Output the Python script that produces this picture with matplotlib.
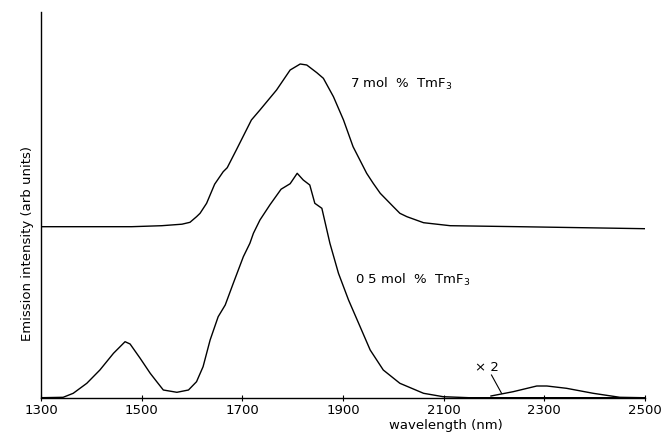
import numpy as np
import matplotlib
matplotlib.use("Agg")
import matplotlib.pyplot as plt

# Data (arbitrary intensity units)
wl_7 = [1300, 1480, 1540, 1580, 1596, 1609, 1616, 1629, 1645, 1662, 1670, 1688,
        1718, 1735, 1768, 1795, 1815, 1828, 1848, 1861, 1881, 1901, 1920, 1947,
        1960, 1974, 2000, 2013, 2027, 2060, 2113, 2250, 2500]
int_7 = [171, 171, 172, 173.5, 175.4, 181, 184.4, 194.4, 213.5, 226, 230, 247.7,
         277.7, 287.7, 307.7, 327.7, 333.7, 332.7, 325, 319.4, 301, 277.7, 251, 224.4,
         214.4, 204.4, 191, 184.4, 181, 175, 172, 171, 169]

wl_05 = [1300, 1344, 1364, 1391, 1417, 1444, 1467, 1477, 1497, 1517, 1530, 1543,
         1570, 1593, 1609, 1622, 1636, 1652, 1666, 1682, 1702, 1715, 1722, 1735,
         1755, 1777, 1795, 1809, 1821, 1834, 1844, 1858, 1874, 1891, 1911, 1934,
         1954, 1980, 2013, 2060, 2099, 2150, 2500]
int_05 = [0, 0.4, 4.4, 14.4, 27.7, 44.4, 56, 53.7, 39.4, 24.4, 16, 7.7,
          5.4, 7.7, 16, 31, 57.7, 81, 92.7, 114.4, 141, 154.4, 164.4, 177.7,
          193, 208.5, 214, 224.4, 217.7, 212.7, 194.4, 189.4, 154.4, 124.4, 97.7, 71,
          47.7, 27.7, 14.4, 4.4, 1, 0, 0]

wl_x2 = [2194, 2238, 2285, 2305, 2344, 2397, 2450, 2496]
int_x2 = [1.7, 6, 11.7, 11.7, 9.4, 4.4, 0.4, 0]

xticks = [1300, 1500, 1700, 1900, 2100, 2300, 2500]
label_7 = "7 mol  %  TmF$_3$"
label_05 = "0 5 mol  %  TmF$_3$"

plt.rcParams['font.family'] = ['DejaVu Sans']
plt.rcParams['mathtext.fontset'] = 'dejavusans'

fig = plt.figure(figsize=(6.68, 4.32), dpi=100)
ax = fig.add_axes([41/668, 34.3/432, 604/668, 385.7/432])

lw = 1.0
ax.plot(wl_7, int_7, color='black', lw=lw)
ax.plot(wl_05, int_05, color='black', lw=lw)
ax.plot(wl_x2, int_x2, color='black', lw=lw)

ax.set_xlim(1300, 2500)
ax.set_ylim(0, 385.7)
ax.set_xticks(xticks)
ax.set_xticklabels([str(t) for t in xticks], fontsize=9.5)
ax.set_yticks([])
ax.tick_params(axis='x', direction='inout', length=5, width=0.8, pad=2)
ax.spines['top'].set_visible(False)
ax.spines['right'].set_visible(False)
ax.spines['left'].set_linewidth(1.0)
ax.spines['bottom'].set_linewidth(1.0)

ax.text(1914, 314, label_7, fontsize=9.5, va='center', ha='left')
ax.text(1924, 118, label_05, fontsize=9.5, va='center', ha='left')
ax.text(2162, 30, "× 2", fontsize=9.5, va='center', ha='left')
ax.plot([2195, 2215], [22.7, 4.4], color='black', lw=0.8)

ax.set_xlabel("wavelength (nm)", fontsize=9.5)
ax.xaxis.set_label_coords(0.67, -0.071)
ax.xaxis.label.set_verticalalignment('center')
ax.set_ylabel("Emission intensity (arb units)", fontsize=9.5)
ax.yaxis.set_label_coords(-0.023, 0.40)
ax.yaxis.label.set_verticalalignment('center')

fig.savefig("out.png", dpi=100)
